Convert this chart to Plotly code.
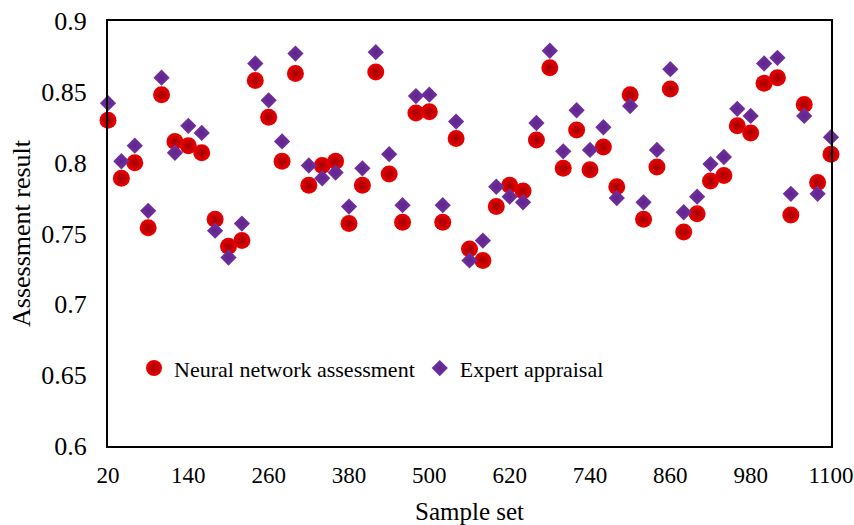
import plotly.graph_objects as go

samples = list(range(20, 1101, 20))

neural = [0.830, 0.789, 0.800, 0.754, 0.848, 0.815, 0.812, 0.807, 0.760, 0.741,
          0.745, 0.858, 0.832, 0.801, 0.863, 0.784, 0.798, 0.801, 0.757, 0.784,
          0.864, 0.792, 0.758, 0.835, 0.836, 0.758, 0.817, 0.739, 0.731, 0.769,
          0.784, 0.780, 0.816, 0.867, 0.796, 0.823, 0.795, 0.811, 0.783, 0.848,
          0.760, 0.797, 0.852, 0.751, 0.764, 0.787, 0.791, 0.826, 0.821, 0.856,
          0.860, 0.763, 0.841, 0.786, 0.806]

expert = [0.842, 0.801, 0.812, 0.766, 0.860, 0.807, 0.826, 0.821, 0.752, 0.733,
          0.757, 0.870, 0.844, 0.815, 0.877, 0.798, 0.789, 0.793, 0.769, 0.796,
          0.878, 0.806, 0.770, 0.847, 0.848, 0.770, 0.829, 0.731, 0.745, 0.783,
          0.776, 0.772, 0.828, 0.879, 0.808, 0.837, 0.809, 0.825, 0.775, 0.840,
          0.772, 0.809, 0.866, 0.765, 0.776, 0.799, 0.804, 0.838, 0.833, 0.870,
          0.874, 0.778, 0.833, 0.778, 0.818]

x_ticks = [20, 140, 260, 380, 500, 620, 740, 860, 980, 1100]
y_ticks = [0.6, 0.65, 0.7, 0.75, 0.8, 0.85, 0.9]
y_tick_text = ["0.6", "0.65", "0.7", "0.75", "0.8", "0.85", "0.9"]

FONT = "Liberation Serif"

fig = go.Figure()
fig.add_trace(go.Scatter(
    x=samples, y=neural, mode="markers", name="Neural network assessment",
    marker=dict(symbol="circle", size=17, color="#EE0000",
                gradient=dict(type="radial", color="#A00000"),
                line=dict(width=0)),
    cliponaxis=False,
))
fig.add_trace(go.Scatter(
    x=samples, y=expert, mode="markers", name="Expert appraisal",
    marker=dict(symbol="diamond", size=12.5, color="#7432A6",
                gradient=dict(type="radial", color="#5E2488"),
                line=dict(width=0)),
    cliponaxis=False,
))

fig.update_layout(
    width=854, height=525,
    margin=dict(l=108, r=23, t=21, b=79),
    paper_bgcolor="white", plot_bgcolor="white",
    font=dict(family=FONT, size=22, color="black"),
    showlegend=True,
    legend=dict(orientation="h", x=0.036, y=0.183, xanchor="left", yanchor="middle",
                bgcolor="rgba(0,0,0,0)", font=dict(family=FONT, size=22),
                itemwidth=30, tracegroupgap=0),
    xaxis=dict(range=[20, 1100], tickvals=x_ticks, ticktext=[str(v) for v in x_ticks],
               showgrid=False, zeroline=False, showline=True, linecolor="black",
               linewidth=2, mirror=True, ticks="", ticklabelstandoff=7,
               automargin=False,
               tickfont=dict(family=FONT, size=23),
               title=dict(text="Sample set", font=dict(family=FONT, size=25), standoff=19)),
    yaxis=dict(range=[0.6, 0.9], tickvals=y_ticks, ticktext=y_tick_text,
               showgrid=False, zeroline=False, showline=True, linecolor="black",
               linewidth=2, mirror=True, ticks="", ticklabelstandoff=14,
               automargin=False,
               tickfont=dict(family=FONT, size=26),
               title=dict(text="Assessment result", font=dict(family=FONT, size=26), standoff=3)),
)

fig.write_html("out.html")
